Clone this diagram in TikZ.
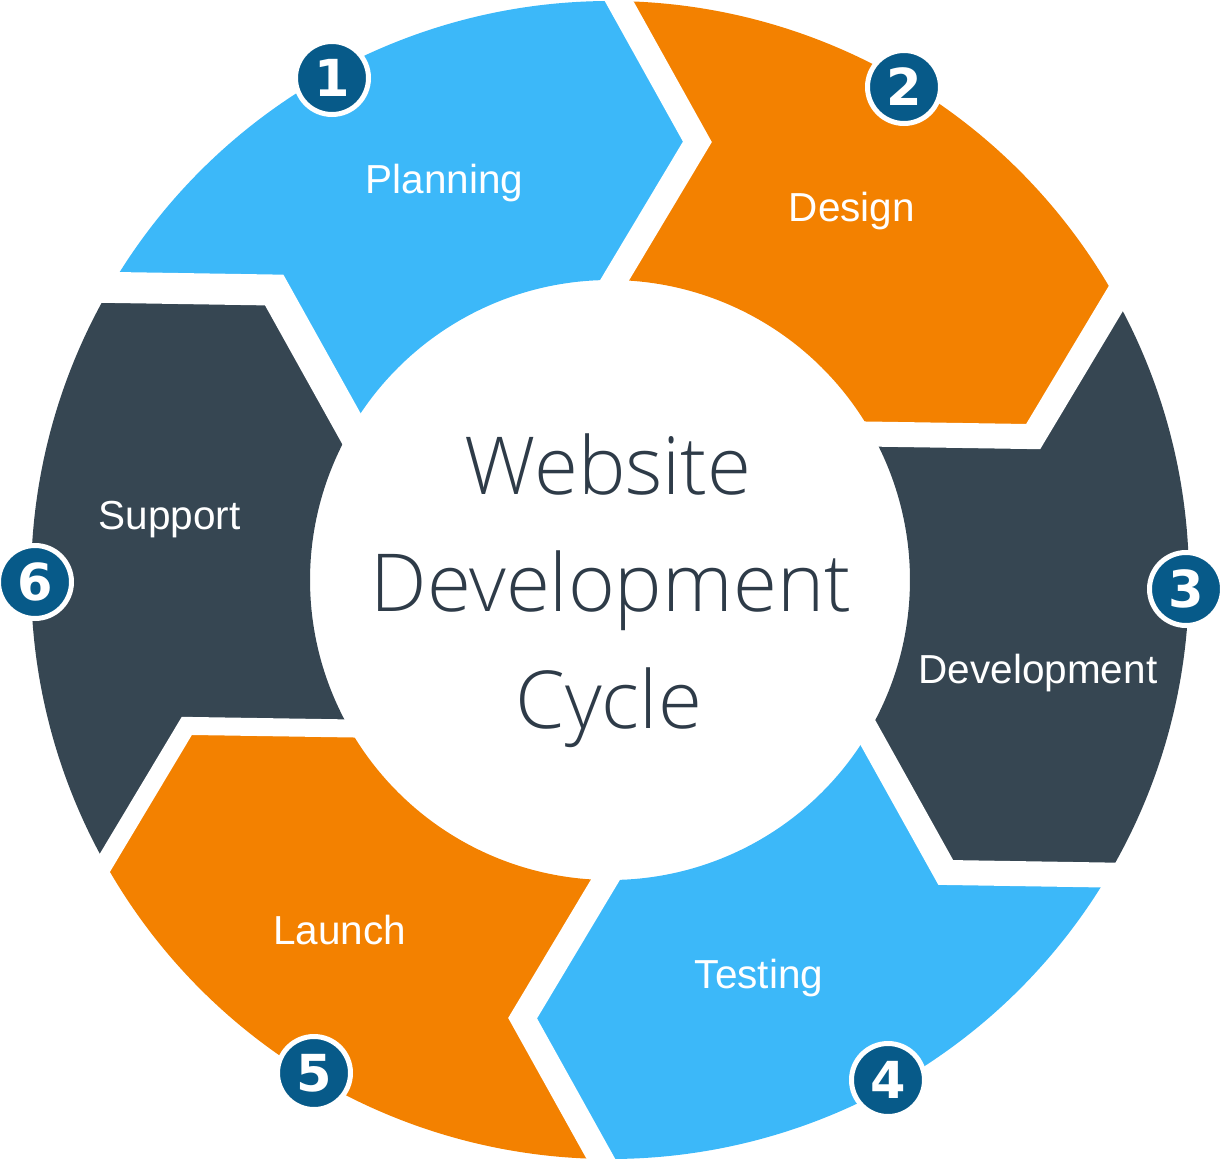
\documentclass[tikz,border=0pt]{standalone}
\usepackage{fontspec}
\setmainfont{Liberation Sans}
\newfontfamily\numfont{DejaVu Sans}
\IfFontExistsTF{Open Sans Light}{\newfontfamily\titlefont{Open Sans Light}}{\newfontfamily\titlefont{Open Sans}}
\usetikzlibrary{calc}
\definecolor{cblue}{HTML}{3CB8F9}
\definecolor{corange}{HTML}{F38100}
\definecolor{cdark}{HTML}{364652}
\definecolor{cnum}{HTML}{075A89}
\definecolor{ctitle}{HTML}{2E3B48}
\tikzset{
  numcircle/.style={circle, fill=cnum, draw=white, line width=5pt, minimum size=73pt, inner sep=0pt,
    text=white, font=\numfont\bfseries\fontsize{51}{51}\selectfont},
  seglabel/.style={anchor=base, text=white, inner sep=0pt, font=\fontsize{40.5}{48}\selectfont},
  titleline/.style={anchor=base, text=ctitle, inner sep=0pt, font=\titlefont\fontsize{80}{96}\selectfont},
  gapline/.style={white, line join=miter, line cap=butt}
}
\begin{document}
\begin{tikzpicture}
\useasboundingbox (-610pt,-580pt) rectangle (610pt,580pt);
\def\rot{-0.9}
% ring segments
\foreach \s/\c in {150/cblue, 90/corange, 30/cdark, -30/cblue, -90/corange, -150/cdark}{
  \pgfmathsetmacro\a{\s+\rot}
  \pgfmathsetmacro\b{\s-60+\rot}
  \fill[\c] (\a:579pt) -- ($(\a:439.5pt)+(\a-90:80.5pt)$) -- (\a:300pt)
    arc[start angle=\a, end angle=\b, radius=300pt]
    -- ($(\b:439.5pt)+(\b-90:80.5pt)$) -- (\b:579pt)
    arc[start angle=\b, end angle=\a, radius=579pt] -- cycle;
}
% white gaps between segments (boundary angle / vertical shift / width)
\foreach \t/\dy/\w in {90/0/25, 30/0/25, -30/2.3/25, -90/0/25, -150/-2.5/18, 150/-4.8/31}{
  \pgfmathsetmacro\a{\t+\rot}
  \draw[gapline, line width=\w pt] ($(\a:579pt)+(\a+30:40pt)+(0,\dy pt)$)
    -- ($(\a:439.5pt)+(\a-90:80.5pt)+(0,\dy pt)$)
    -- ($(\a:300pt)+(\a+150:40pt)+(0,\dy pt)$);
}
% centre title
\node[titleline] (t1) at (-2pt,86pt) {Website};
\node[titleline] (t2) at (0.8pt,-31.7pt) {Development};
\node[titleline] (t3) at (-1.2pt,-148.3pt) {Cycle};
% segment labels
\node[seglabel] (lplan) at (-165.3pt,386.7pt) {Planning};
\node[seglabel] (ldes) at (242pt,358pt) {Design};
\node[seglabel] (ldev) at (428pt,-103pt) {Development};
\node[seglabel] (ltest) at (149pt,-408.3pt) {Testing};
\node[seglabel] (llaun) at (-270.5pt,-364pt) {Launch};
\node[seglabel] (lsup) at (-440.5pt,51pt) {Support};
% number badges
\node[numcircle] (n1) at (-278pt,502pt) {1};
\node[numcircle] (n2) at (294pt,493pt) {2};
\node[numcircle] (n3) at (576pt,-9pt) {3};
\node[numcircle] (n4) at (278pt,-500pt) {4};
\node[numcircle] (n5) at (-296pt,-493pt) {5};
\node[numcircle] (n6) at (-575pt,-2pt) {6};
\end{tikzpicture}
\end{document}
